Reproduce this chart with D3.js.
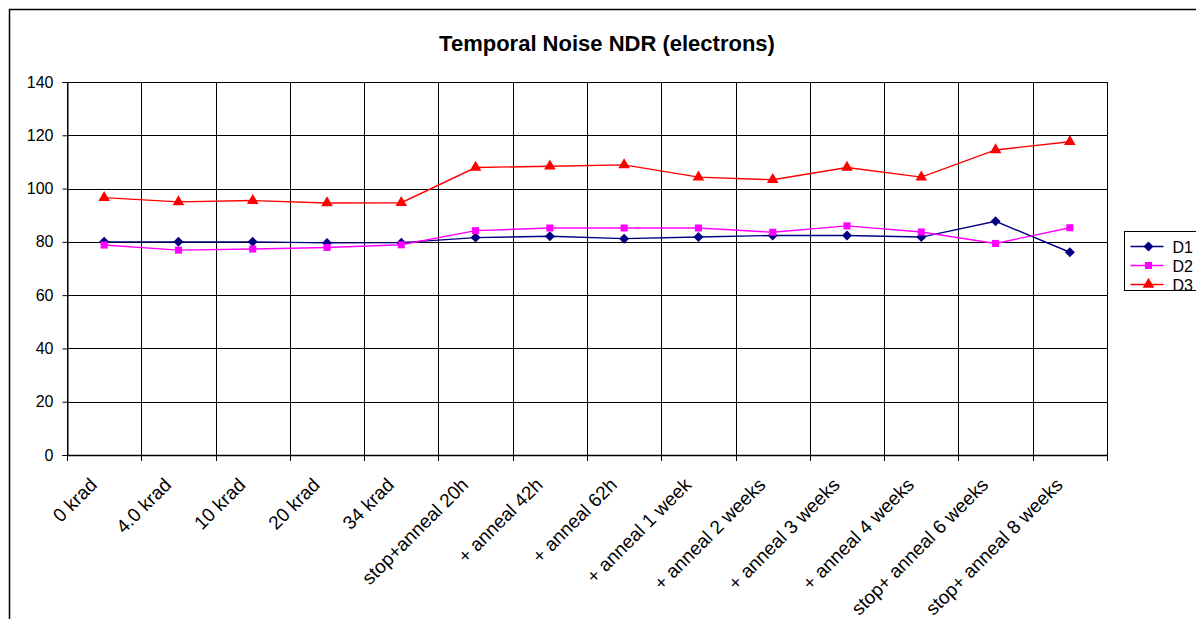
<!DOCTYPE html>
<html>
<head>
<meta charset="utf-8">
<script src="https://cdn.jsdelivr.net/npm/d3@7"></script>
<style>
  body { margin: 0; background: #fff; }
  text { font-family: Arial, "Liberation Sans", sans-serif; }
</style>
</head>
<body>
<div id="chart"></div>
<script>
var categories = ["0 krad", "4.0 krad", "10 krad", "20 krad", "34 krad", "stop+anneal 20h",
  "+ anneal 42h", "+ anneal 62h", "+ anneal 1 week", "+ anneal 2 weeks", "+ anneal 3 weeks",
  "+ anneal 4 weeks", "stop+ anneal 6 weeks", "stop+ anneal 8 weeks"];
var valuesD1 = [80, 80, 80, 79.6, 79.7, 81.6, 82.1, 81.2, 81.8, 82.4, 82.4, 81.8, 87.7, 76.1];
var valuesD2 = [78.8, 76.9, 77.3, 77.9, 78.9, 84.2, 85.2, 85.2, 85.2, 83.6, 86, 83.7, 79.4, 85.3];
var valuesD3 = [96.6, 95, 95.5, 94.6, 94.7, 107.9, 108.4, 108.9, 104.3, 103.3, 107.9, 104.3, 114.5, 117.6];
var yTicks = [0, 20, 40, 60, 80, 100, 120, 140];

var series = [
  {name: "D1", values: valuesD1, color: "#000080", symbol: d3.symbolSquare, size: 50, rot: 45},
  {name: "D2", values: valuesD2, color: "#ff00ff", symbol: d3.symbolSquare, size: 50, rot: 0},
  {name: "D3", values: valuesD3, color: "#ff0000", symbol: d3.symbolTriangle, size: 58, rot: 0}
];

var W = 1196, H = 619;
var margin = {top: 82, left: 67},
    width = 1040,
    height = 373;

var svg = d3.select("#chart").append("svg")
    .attr("width", W)
    .attr("height", H);

// outer chart frame
svg.append("rect")
    .attr("x", 9.5).attr("y", 9.5)
    .attr("width", W + 20).attr("height", H + 20)
    .attr("fill", "none")
    .attr("stroke", "#000")
    .attr("stroke-width", 1.5);

svg.append("text")
    .attr("x", 607).attr("y", 51)
    .attr("text-anchor", "middle")
    .style("font-size", "22px")
    .style("font-weight", "bold")
    .text("Temporal Noise NDR (electrons)");

var g = svg.append("g")
    .attr("transform", "translate(" + margin.left + "," + margin.top + ")");

var x = d3.scaleBand().domain(categories).range([0, width]);
var y = d3.scaleLinear().domain([0, 140]).range([height, 0]);

// horizontal gridlines
g.selectAll(".hgrid").data(yTicks).enter().append("line")
    .attr("x1", 0).attr("x2", width)
    .attr("y1", function(d) { return Math.round(y(d)) + 0.5; })
    .attr("y2", function(d) { return Math.round(y(d)) + 0.5; })
    .attr("stroke", "#000");

// vertical gridlines at category boundaries
var bounds = categories.map(function(c) { return x(c); }).concat([width]);
g.selectAll(".vgrid").data(bounds).enter().append("line")
    .attr("x1", function(d) { return Math.round(d) + 0.5; })
    .attr("x2", function(d) { return Math.round(d) + 0.5; })
    .attr("y1", 0).attr("y2", height + 6)
    .attr("stroke", "#000");

// y axis
var yAxis = g.append("g")
    .attr("transform", "translate(0.5,0)")
    .call(d3.axisLeft(y).tickValues(yTicks).tickSize(5).tickPadding(9));
yAxis.select(".domain").attr("stroke", "#000");
yAxis.selectAll("text").style("font-size", "16px").attr("fill", "#000")
    .attr("font-family", "Arial, 'Liberation Sans', sans-serif");

// x axis line
g.append("line")
    .attr("x1", 0).attr("x2", width)
    .attr("y1", height + 0.5).attr("y2", height + 0.5)
    .attr("stroke", "#000").attr("stroke-width", 1.3);

// x labels
g.selectAll(".xlab").data(categories).enter().append("text")
    .attr("transform", function(d) {
      return "translate(" + (x(d) + x.bandwidth() / 2 - 6) + "," + (height + 31) + ") rotate(-45)";
    })
    .attr("text-anchor", "end")
    .style("font-size", "19px")
    .text(function(d) { return d; });

var line = d3.line()
    .x(function(d, i) { return x(categories[i]) + x.bandwidth() / 2; })
    .y(function(d) { return y(d); });

series.forEach(function(s) {
  g.append("path")
      .datum(s.values)
      .attr("d", line)
      .attr("fill", "none")
      .attr("stroke", s.color)
      .attr("stroke-width", 1.4);
  g.selectAll(".m" + s.name).data(s.values).enter().append("path")
      .attr("d", d3.symbol().type(s.symbol).size(s.size))
      .attr("transform", function(d, i) {
        return "translate(" + (x(categories[i]) + x.bandwidth() / 2) + "," + y(d) + ") rotate(" + s.rot + ")";
      })
      .attr("fill", s.color);
});

// legend
var leg = svg.append("g").attr("transform", "translate(1124.5,231.5)");
leg.append("rect")
    .attr("width", 100).attr("height", 59)
    .attr("fill", "#fff").attr("stroke", "#000");
series.forEach(function(s, i) {
  var ly = 15 + i * 19;
  leg.append("line")
      .attr("x1", 6).attr("x2", 39)
      .attr("y1", ly).attr("y2", ly)
      .attr("stroke", s.color).attr("stroke-width", 1.4);
  leg.append("path")
      .attr("d", d3.symbol().type(s.symbol).size(s.size))
      .attr("transform", "translate(24," + ly + ") rotate(" + s.rot + ")")
      .attr("fill", s.color);
  leg.append("text")
      .attr("x", 48).attr("y", ly + 6)
      .style("font-size", "16px")
      .text(s.name);
});
</script>
</body>
</html>
